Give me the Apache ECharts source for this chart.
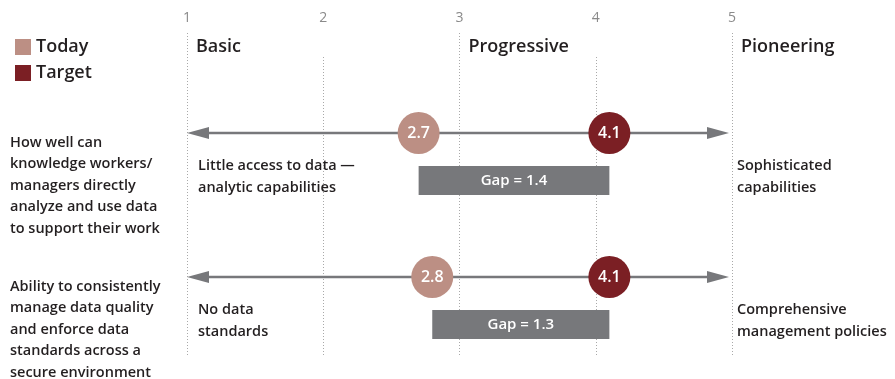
<!DOCTYPE html>
<html>
<head>
<meta charset="utf-8">
<script src="https://cdn.jsdelivr.net/npm/echarts@6/dist/echarts.min.js"></script>
<style>
  html, body { margin: 0; padding: 0; background: #fff; }
  #chart { width: 895px; height: 379px; }
</style>
</head>
<body>
<div id="chart"></div>
<script>
// Maturity scale
const scaleTicks = [1, 2, 3, 4, 5];
const stageNames = ['Basic', '', 'Progressive', '', 'Pioneering'];

// One row per capability question
const questions = [
  'How well can\nknowledge workers/\nmanagers directly\nanalyze and use data\nto support their work',
  'Ability to consistently\nmanage data quality\nand enforce data\nstandards across a\nsecure environment'
];
const todayScores = [2.7, 2.8];
const targetScores = [4.1, 4.1];
const lowDescriptions = ['Little access to data \u2014\nanalytic capabilities', 'No data\nstandards'];
const highDescriptions = ['Sophisticated\ncapabilities', 'Comprehensive\nmanagement policies'];

const FONT = '"Open Sans", "Noto Sans", sans-serif';
const TEXT = '#231f20';
const TODAY = '#bc8f84';
const TARGET = '#7b1f24';
const ARROW = '#77787b';
const GAP = '#77787b';
const GRIDLINE = '#a9a9a9';

const scaleMin = scaleTicks[0];
const scaleMax = scaleTicks[scaleTicks.length - 1];
const rowIdx = questions.map((_, i) => i);

function renderRow(params, api) {
  const i = params.dataIndex;
  const row = api.value(1);
  const lo = api.coord([scaleMin, row]);
  const hi = api.coord([scaleMax, row]);
  const a = api.coord([api.value(0), row]);
  const b = api.coord([api.value(2), row]);
  const y = lo[1];
  const head = 22, half = 6;
  const gap = (api.value(2) - api.value(0)).toFixed(1);
  const descStyle = {
    fill: TEXT, fontSize: 14.5, fontWeight: 600, fontFamily: FONT,
    lineHeight: 22, verticalAlign: 'top', align: 'left'
  };
  return {
    type: 'group',
    children: [
      { type: 'line', shape: { x1: lo[0] + head - 2, y1: y, x2: hi[0] - head - 1, y2: y },
        style: { stroke: ARROW, lineWidth: 2.5 } },
      { type: 'polygon', shape: { points: [[lo[0], y], [lo[0] + head, y - half], [lo[0] + head, y + half]] },
        style: { fill: ARROW } },
      { type: 'polygon', shape: { points: [[hi[0] - 3, y], [hi[0] - 3 - head, y - half], [hi[0] - 3 - head, y + half]] },
        style: { fill: ARROW } },
      { type: 'rect', shape: { x: a[0], y: y + 33, width: b[0] - a[0], height: 29 },
        style: { fill: GAP } },
      { type: 'text', style: { text: 'Gap = ' + gap, x: (a[0] + b[0]) / 2, y: y + 47.5,
        align: 'center', verticalAlign: 'middle', fill: '#fff',
        fontSize: 15, fontWeight: 600, fontFamily: FONT } },
      { type: 'text', style: Object.assign({ text: lowDescriptions[i], x: lo[0] + 11, y: y + 22 }, descStyle) },
      { type: 'text', style: Object.assign({ text: highDescriptions[i], x: hi[0] + 5, y: y + 22 }, descStyle) }
    ]
  };
}

const chart = echarts.init(document.getElementById('chart'), null, { renderer: 'canvas' });

const commonX = { type: 'value', min: scaleMin, max: scaleMax, interval: 1 };
const gridBase = { left: 187, right: 163, containLabel: false, outerBoundsMode: 'none' };

chart.setOption({
  animation: false,
  backgroundColor: '#fff',
  textStyle: { fontFamily: FONT },
  legend: {
    orient: 'vertical', left: 10, top: 33,
    itemWidth: 16, itemHeight: 16, itemGap: 8, icon: 'rect',
    textStyle: { fontSize: 18, fontWeight: 600, color: TEXT, fontFamily: FONT },
    data: ['Today', 'Target']
  },
  grid: [
    Object.assign({ top: 33, bottom: 22 }, gridBase),
    Object.assign({ top: 57, bottom: 22 }, gridBase),
    Object.assign({ top: 61, bottom: 30 }, gridBase)
  ],
  xAxis: [
    Object.assign({}, commonX, {
      gridIndex: 0, position: 'top',
      axisLine: { show: false }, axisTick: { show: false },
      axisLabel: { color: '#8a8a8a', fontSize: 14, margin: 8, fontFamily: FONT },
      splitLine: { show: true, lineStyle: { color: [GRIDLINE, 'rgba(0,0,0,0)'], type: [1, 2], width: 1 } }
    }),
    Object.assign({}, commonX, {
      gridIndex: 1, position: 'top',
      axisLine: { show: false }, axisTick: { show: false },
      axisLabel: {
        color: TEXT, fontSize: 18, fontWeight: 600, fontFamily: FONT,
        align: 'left', verticalAlign: 'middle', margin: 10, padding: [0, 0, 0, 9],
        formatter: v => stageNames[scaleTicks.indexOf(Math.round(v))] || ''
      },
      splitLine: { show: true, lineStyle: { color: ['rgba(0,0,0,0)', GRIDLINE], type: [1, 2], width: 1 } }
    }),
    Object.assign({}, commonX, {
      gridIndex: 2, show: false, splitLine: { show: false }
    })
  ],
  yAxis: [
    { type: 'value', gridIndex: 0, show: false },
    { type: 'value', gridIndex: 1, show: false },
    {
      type: 'category', gridIndex: 2, inverse: true, data: questions,
      axisLine: { show: false }, axisTick: { show: false },
      axisLabel: {
        interval: 0, align: 'left', verticalAlign: 'top', margin: 177,
        color: TEXT, fontSize: 14.5, fontWeight: 600, fontFamily: FONT,
        lineHeight: 21.5, padding: [-1, 0, 0, 0]
      }
    }
  ],
  series: [
    {
      type: 'custom', name: 'Gap', xAxisIndex: 2, yAxisIndex: 2, z: 2,
      renderItem: renderRow,
      data: rowIdx.map(i => [todayScores[i], i, targetScores[i]])
    },
    {
      type: 'scatter', name: 'Today', xAxisIndex: 2, yAxisIndex: 2, z: 3,
      symbol: 'circle', symbolSize: 42,
      itemStyle: { color: TODAY, opacity: 1 },
      label: { show: true, position: 'inside', color: '#fff', fontSize: 16, fontWeight: 600,
        fontFamily: FONT, formatter: p => p.value[0].toFixed(1) },
      data: rowIdx.map(i => [todayScores[i], i])
    },
    {
      type: 'scatter', name: 'Target', xAxisIndex: 2, yAxisIndex: 2, z: 3,
      symbol: 'circle', symbolSize: 42,
      itemStyle: { color: TARGET, opacity: 1 },
      label: { show: true, position: 'inside', color: '#fff', fontSize: 16, fontWeight: 600,
        fontFamily: FONT, formatter: p => p.value[0].toFixed(1) },
      data: rowIdx.map(i => [targetScores[i], i])
    }
  ]
});
</script>
</body>
</html>
